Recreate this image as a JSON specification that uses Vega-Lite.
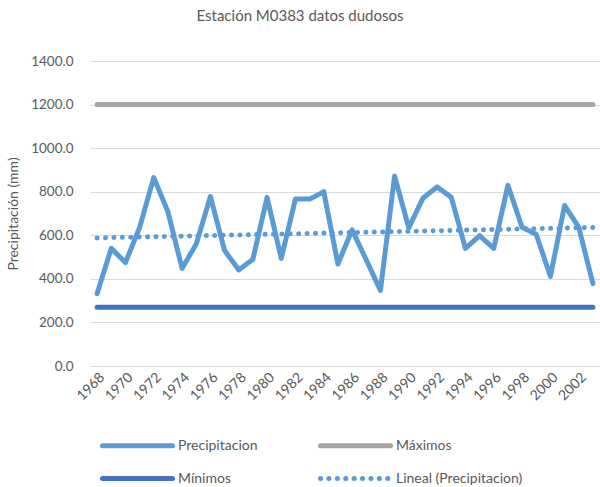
{
  "$schema": "https://vega.github.io/schema/vega-lite/v6.json",
  "width": 510,
  "height": 305,
  "autosize": {"type": "none"},
  "padding": {"left": 90, "top": 61, "right": 0, "bottom": 121},
  "background": "white",
  "title": {"text": "Estación M0383 datos dudosos", "font": "Lato", "fontSize": 15, "fontWeight": "normal", "color": "#595959", "anchor": "middle", "dx": -45, "offset": 30},
  "config": {
    "view": {"stroke": null},
    "axis": {"labelFont": "Lato", "labelColor": "#595959", "titleFont": "Lato", "titleColor": "#595959", "gridColor": "#d9d9d9", "gridWidth": 1, "domain": false, "ticks": false}
  },
  "data": {
    "values": [
      {"year": 1968, "serie": "Precipitacion", "value": 332},
      {"year": 1969, "serie": "Precipitacion", "value": 540},
      {"year": 1970, "serie": "Precipitacion", "value": 475},
      {"year": 1971, "serie": "Precipitacion", "value": 635},
      {"year": 1972, "serie": "Precipitacion", "value": 865},
      {"year": 1973, "serie": "Precipitacion", "value": 708},
      {"year": 1974, "serie": "Precipitacion", "value": 448},
      {"year": 1975, "serie": "Precipitacion", "value": 560},
      {"year": 1976, "serie": "Precipitacion", "value": 778},
      {"year": 1977, "serie": "Precipitacion", "value": 530},
      {"year": 1978, "serie": "Precipitacion", "value": 441},
      {"year": 1979, "serie": "Precipitacion", "value": 490},
      {"year": 1980, "serie": "Precipitacion", "value": 774},
      {"year": 1981, "serie": "Precipitacion", "value": 494},
      {"year": 1982, "serie": "Precipitacion", "value": 766},
      {"year": 1983, "serie": "Precipitacion", "value": 766},
      {"year": 1984, "serie": "Precipitacion", "value": 800},
      {"year": 1985, "serie": "Precipitacion", "value": 468},
      {"year": 1986, "serie": "Precipitacion", "value": 625},
      {"year": 1987, "serie": "Precipitacion", "value": 487},
      {"year": 1988, "serie": "Precipitacion", "value": 347},
      {"year": 1989, "serie": "Precipitacion", "value": 872},
      {"year": 1990, "serie": "Precipitacion", "value": 634},
      {"year": 1991, "serie": "Precipitacion", "value": 770},
      {"year": 1992, "serie": "Precipitacion", "value": 822},
      {"year": 1993, "serie": "Precipitacion", "value": 775},
      {"year": 1994, "serie": "Precipitacion", "value": 540},
      {"year": 1995, "serie": "Precipitacion", "value": 598},
      {"year": 1996, "serie": "Precipitacion", "value": 540},
      {"year": 1997, "serie": "Precipitacion", "value": 829},
      {"year": 1998, "serie": "Precipitacion", "value": 637},
      {"year": 1999, "serie": "Precipitacion", "value": 604},
      {"year": 2000, "serie": "Precipitacion", "value": 411},
      {"year": 2001, "serie": "Precipitacion", "value": 737},
      {"year": 2002, "serie": "Precipitacion", "value": 637},
      {"year": 2003, "serie": "Precipitacion", "value": 378},
      {"year": 1968, "serie": "Máximos", "value": 1200},
      {"year": 2003, "serie": "Máximos", "value": 1200},
      {"year": 1968, "serie": "Mínimos", "value": 270},
      {"year": 2003, "serie": "Mínimos", "value": 270},
      {"year": 1968, "serie": "Lineal (Precipitacion)", "value": 588},
      {"year": 2003, "serie": "Lineal (Precipitacion)", "value": 636}
    ]
  },
  "mark": {"type": "line", "strokeCap": "round", "strokeJoin": "round"},
  "encoding": {
    "x": {
      "field": "year", "type": "quantitative",
      "scale": {"domain": [1967.5, 2003.5], "nice": false, "zero": false},
      "axis": {"values": [1968, 1970, 1972, 1974, 1976, 1978, 1980, 1982, 1984, 1986, 1988, 1990, 1992, 1994, 1996, 1998, 2000, 2002], "format": "d", "labelAngle": -45, "labelOverlap": false, "grid": false, "title": null, "labelFontSize": 14, "labelPadding": 4}
    },
    "y": {
      "field": "value", "type": "quantitative",
      "scale": {"domain": [0, 1400], "nice": false},
      "axis": {"values": [0, 200, 400, 600, 800, 1000, 1200, 1400], "format": ".1f", "title": "Precipitación (mm)", "titleFontSize": 14, "titleFontWeight": "normal", "labelFontSize": 13.5, "labelPadding": 17, "titlePadding": 10}
    },
    "color": {
      "field": "serie", "type": "nominal",
      "scale": {"domain": ["Precipitacion", "Mínimos", "Máximos", "Lineal (Precipitacion)"], "range": ["#5b9bd5", "#4472c4", "#a5a5a5", "#5b9bd5"]},
      "legend": {
        "orient": "none", "legendX": 35, "legendY": 372, "columns": 2, "title": null,
        "symbolType": "M-3.5,0H3.5", "symbolSize": 400, "symbolStrokeWidth": 5,
        "labelFont": "Lato", "labelFontSize": 14, "labelColor": "#595959", "labelOffset": 28,
        "columnPadding": 52, "rowPadding": 10,
        "encoding": {"symbols": {"strokeCap": {"value": "round"}, "strokeWidth": {"signal": "datum.value === 'Lineal (Precipitacion)' ? 3 : 5"}}}
      }
    },
    "strokeDash": {
      "field": "serie", "type": "nominal",
      "scale": {"domain": ["Precipitacion", "Mínimos", "Máximos", "Lineal (Precipitacion)"], "range": [[1, 0], [1, 0], [1, 0], [0.1, 8.3]]},
      "legend": {
        "orient": "none", "legendX": 35, "legendY": 372, "columns": 2, "title": null,
        "symbolType": "M-3.5,0H3.5", "symbolSize": 400, "symbolStrokeWidth": 5,
        "labelFont": "Lato", "labelFontSize": 14, "labelColor": "#595959", "labelOffset": 28,
        "columnPadding": 52, "rowPadding": 10,
        "encoding": {"symbols": {"strokeCap": {"value": "round"}, "strokeWidth": {"signal": "datum.value === 'Lineal (Precipitacion)' ? 3 : 5"}}}
      }
    },
    "strokeWidth": {
      "field": "serie", "type": "nominal",
      "scale": {"domain": ["Precipitacion", "Mínimos", "Máximos", "Lineal (Precipitacion)"], "range": [5, 5, 5, 3]},
      "legend": null
    }
  }
}
